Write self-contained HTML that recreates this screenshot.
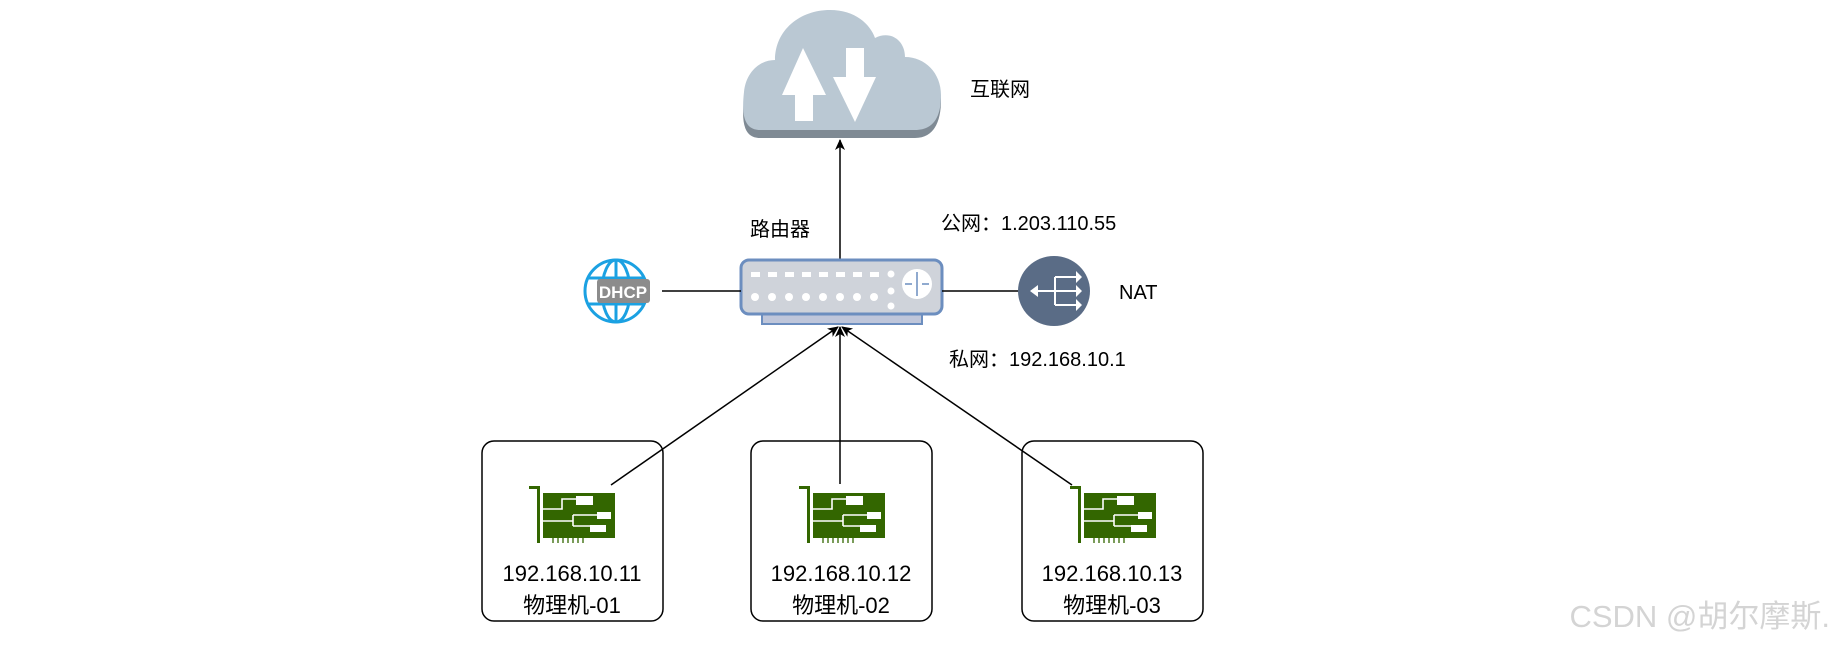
<!DOCTYPE html>
<html><head><meta charset="utf-8"><style>
html,body{margin:0;padding:0;background:#fff;}
svg{display:block;}
text{font-family:"Liberation Sans","Noto Sans CJK SC",sans-serif;fill:#000;}
</style></head><body>
<svg width="1837" height="648" viewBox="0 0 1837 648" xmlns="http://www.w3.org/2000/svg">
<defs>
<marker id="ar" markerWidth="12" markerHeight="12" refX="10" refY="5" orient="auto" markerUnits="userSpaceOnUse">
<path d="M0,0 L11,5 L0,10 L3,5 Z" fill="#000"/>
</marker>
<g id="nic">
<path d="M0,0 H11 V57 H8 V3 H0 Z" fill="#336600"/>
<rect x="14" y="7" width="72" height="45" fill="#336600"/>
<g stroke="#336600" stroke-width="1.3"><path d="M24,52V57M29,52V57M34,52V57M39,52V57M44,52V57M49,52V57M54,52V57"/></g>
<g stroke="#fff" stroke-width="1.6" fill="none"><path d="M14,23 H33 V13 H47 M14,35 H44 M44,29 V40 M44,29 H68 M44,40 H61"/></g>
<rect x="47" y="10" width="17" height="9" fill="#fff"/>
<rect x="68" y="26" width="14" height="7" fill="#fff"/>
<rect x="61" y="39" width="16" height="7" fill="#fff"/>
</g>
</defs>

<path d="M760,138 C742,138 742,118 744,100 C746,80 760,68 775,68 C775,35 800,14 830,14 C855,14 870,28 875,42 C890,35 905,45 905,62 C925,62 941,78 941,100 C941,120 935,138 915,138 Z" fill="#7f8a94"/>
<path d="M760,130 C742,130 742,110 744,92 C746,72 760,60 775,60 C775,30 800,10 830,10 C855,10 870,24 875,38 C890,30 905,40 905,57 C925,57 941,73 941,95 C941,115 935,130 915,130 Z" fill="#bac8d3"/>
<path d="M803,58 L782,105 H795 V131 H813 V105 H826 Z" fill="#fff" transform="translate(0,-10)"/>
<path d="M846,58 H864 V87 H876 L855,132 L833,87 H846 Z" fill="#fff" transform="translate(0,-10)"/>
<text x="970" y="96" font-size="20">互联网</text>

<line x1="840" y1="260" x2="840" y2="140" stroke="#000" stroke-width="1.5" marker-end="url(#ar)"/>

<text x="750" y="236" font-size="20">路由器</text>
<text x="941" y="230" font-size="20">公网：1.203.110.55</text>
<text x="949" y="366" font-size="20">私网：192.168.10.1</text>

<rect x="762" y="310" width="160" height="14" fill="#bfc6da" stroke="#6c8ebf" stroke-width="2"/>
<rect x="741" y="260" width="201" height="54" rx="8" fill="#cfd3da" stroke="#6c8ebf" stroke-width="3"/>
<g fill="#fff">
<rect x="751" y="272" width="9" height="5"/><rect x="768" y="272" width="9" height="5"/><rect x="785" y="272" width="9" height="5"/><rect x="802" y="272" width="9" height="5"/><rect x="819" y="272" width="9" height="5"/><rect x="836" y="272" width="9" height="5"/><rect x="853" y="272" width="9" height="5"/><rect x="870" y="272" width="9" height="5"/>
<circle cx="755" cy="297" r="4"/><circle cx="772" cy="297" r="4"/><circle cx="789" cy="297" r="4"/><circle cx="806" cy="297" r="4"/><circle cx="823" cy="297" r="4"/><circle cx="840" cy="297" r="4"/><circle cx="857" cy="297" r="4"/><circle cx="874" cy="297" r="4"/>
<circle cx="891" cy="274" r="3.5"/><circle cx="891" cy="291" r="3.5"/><circle cx="891" cy="306" r="3.5"/>
<circle cx="917" cy="284" r="15"/>
</g>
<g stroke="#6c8ebf" stroke-width="1.5" fill="none"><path d="M917,272V296 M905,284H912 M922,284H929"/></g>

<line x1="662" y1="291" x2="741" y2="291" stroke="#000" stroke-width="1.5"/>
<g fill="none" stroke="#1ba1e2" stroke-width="3">
<circle cx="616" cy="291" r="31"/>
<ellipse cx="616" cy="291" rx="14" ry="31"/>
<line x1="616" y1="260" x2="616" y2="322"/>
<line x1="587" y1="278" x2="645" y2="278"/>
<line x1="587" y1="304" x2="645" y2="304"/>
</g>
<rect x="597" y="279" width="53" height="24" rx="3" fill="#8c8c8c"/>
<text x="623" y="298" font-size="17" font-weight="bold" text-anchor="middle" style="fill:#fff">DHCP</text>

<line x1="942" y1="291" x2="1020" y2="291" stroke="#000" stroke-width="1.5"/>
<ellipse cx="1054" cy="291" rx="36" ry="35" fill="#5a6c86"/>
<g stroke="#fff" stroke-width="2" fill="none"><path d="M1034,291H1080 M1055,277V305 M1055,277H1078 M1055,305H1078"/></g>
<path d="M1030,291 L1038,285 V297Z M1082,291 L1076,285V297Z M1082,277 L1076,271V283Z M1082,305 L1076,299V311Z" fill="#fff"/>
<text x="1119" y="299" font-size="20">NAT</text>

<g fill="none" stroke="#000" stroke-width="1.5">
<rect x="482" y="441" width="181" height="180" rx="12"/>
<rect x="751" y="441" width="181" height="180" rx="12"/>
<rect x="1022" y="441" width="181" height="180" rx="12"/>
</g>
<use href="#nic" x="529" y="486"/>
<use href="#nic" x="799" y="486"/>
<use href="#nic" x="1070" y="486"/>

<g font-size="22" text-anchor="middle">
<text x="572" y="581">192.168.10.11</text><text x="572" y="613">物理机-01</text>
<text x="841" y="581">192.168.10.12</text><text x="841" y="613">物理机-02</text>
<text x="1112" y="581">192.168.10.13</text><text x="1112" y="613">物理机-03</text>
</g>

<g stroke="#000" stroke-width="1.5" marker-end="url(#ar)">
<line x1="611" y1="485" x2="838" y2="327"/>
<line x1="840" y1="484" x2="840" y2="327"/>
<line x1="1072" y1="485" x2="842" y2="327"/>
</g>

<text x="1830" y="627" font-size="31" text-anchor="end" style="fill:#d4d4d4">CSDN @胡尔摩斯.</text>
</svg>
</body></html>
